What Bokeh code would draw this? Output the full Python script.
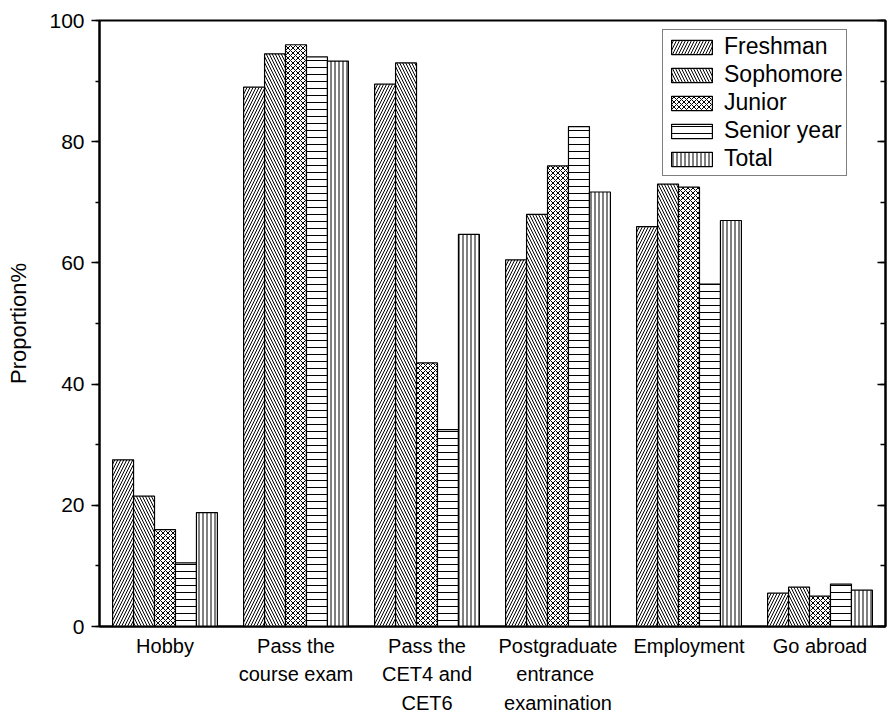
from bokeh.plotting import figure
from bokeh.models import (ColumnDataSource, FactorRange, LinearAxis, SingleIntervalTicker,
                          Legend, LegendItem, Range1d, CustomJSTickFormatter)
from bokeh.transform import dodge
from bokeh.embed import file_html
from bokeh.resources import INLINE

categories = ["Hobby", "Pass the\ncourse exam", "Pass the\nCET4 and\nCET6",
              "Postgraduate\n entrance\nexamination", "Employment", "Go abroad"]
freshman = [27.5, 89.0, 89.5, 60.5, 66.0, 5.5]
sophomore = [21.5, 94.5, 93.0, 68.0, 73.0, 6.5]
junior = [16.0, 96.0, 43.5, 76.0, 72.5, 5.0]
senior = [10.5, 94.0, 32.5, 82.5, 56.5, 7.0]
total = [18.8, 93.3, 64.7, 71.7, 67.0, 6.0]

series_names = ["Freshman", "Sophomore", "Junior", "Senior year", "Total"]
series_values = [freshman, sophomore, junior, senior, total]
hatches = ["/", "\\", "x", "-", "|"]
hatch_scales = [6, 6, 5, 7, 4]

FONT = "Liberation Sans"

source = ColumnDataSource(dict(cat=categories, s0=freshman, s1=sophomore, s2=junior,
                               s3=senior, s4=total))

p = figure(x_range=FactorRange(factors=categories), y_range=Range1d(0, 100),
           width=888, height=716, output_backend="svg", toolbar_location=None,
           min_border_left=99, min_border_right=3, min_border_top=20, min_border_bottom=89)
p.xgrid.grid_line_color = None
p.ygrid.grid_line_color = None
p.outline_line_color = "black"
p.outline_line_width = 2

bw = 0.16
offsets = [-2 * bw, -bw, 0, bw, 2 * bw]
items = []
for i, (name, hp, hs) in enumerate(zip(series_names, hatches, hatch_scales)):
    r = p.vbar(x=dodge("cat", offsets[i], range=p.x_range), top="s%d" % i, width=bw,
               source=source, fill_color="white", line_color="black", line_width=1.2,
               hatch_pattern=hp, hatch_color="black", hatch_weight=1, hatch_scale=hs)
    items.append(LegendItem(label=name, renderers=[r]))

legend = Legend(items=items, location=(563, 450), glyph_width=51, glyph_height=18,
                label_height=18, spacing=1, padding=3, label_standoff=7,
                label_text_font=FONT, label_text_font_size="23px", label_text_color="black",
                border_line_color="black", border_line_width=1, margin=0,
                background_fill_alpha=1)
p.add_layout(legend, "center")

# y axis
yax = p.yaxis[0]
yax.ticker = SingleIntervalTicker(interval=20, num_minor_ticks=2)
yax.axis_label = "Proportion%"
yax.axis_label_text_font = FONT
yax.axis_label_text_font_size = "22px"
yax.axis_label_text_font_style = "normal"
yax.axis_label_text_color = "black"
yax.axis_label_standoff = 15
yax.major_label_text_font = FONT
yax.major_label_text_font_size = "21px"
yax.major_label_text_color = "black"
yax.axis_line_width = 2
yax.major_tick_out = 8
yax.major_tick_in = 0
yax.minor_tick_out = 4
yax.minor_tick_in = 0
yax.major_tick_line_width = 1.5
yax.minor_tick_line_width = 1.5
yax.major_label_standoff = 7

# right axis with inward ticks, no labels
rax = LinearAxis(ticker=SingleIntervalTicker(interval=20, num_minor_ticks=2),
                 formatter=CustomJSTickFormatter(code="return ''"),
                 major_tick_in=8, major_tick_out=0,
                 minor_tick_in=5, minor_tick_out=0, axis_line_width=2,
                 major_tick_line_width=1.5, minor_tick_line_width=1.5,
                 major_label_standoff=0)
p.add_layout(rax, "right")

# x axis
xax = p.xaxis[0]
xax.major_tick_line_color = None
xax.minor_tick_line_color = None
xax.axis_line_width = 2
xax.major_label_text_font = FONT
xax.major_label_text_font_size = "20px"
xax.major_label_text_color = "black"
xax.major_label_text_line_height = 1.3
xax.major_label_standoff = 2

open("out.html", "w").write(file_html(p, INLINE))
